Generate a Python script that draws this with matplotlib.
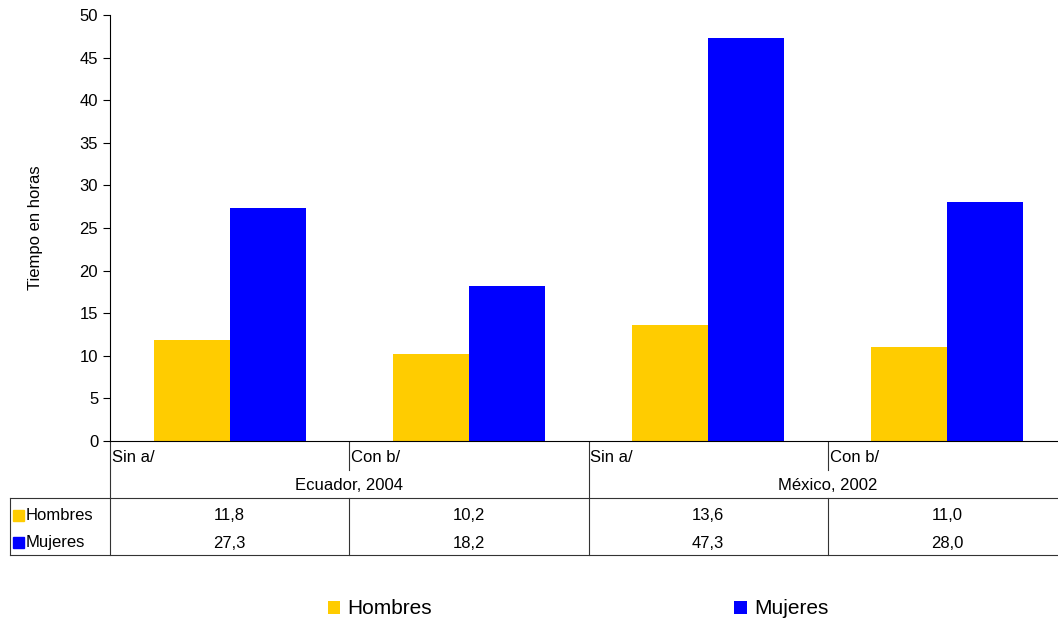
import matplotlib.pyplot as plt
from matplotlib.patches import Rectangle
import numpy as np

plt.rcParams['font.family'] = ['Liberation Sans', 'DejaVu Sans']

# datos
subcats = ['Sin a/', 'Con b/', 'Sin a/', 'Con b/']
groups = ['Ecuador, 2004', 'México, 2002']
hombres = [11.8, 10.2, 13.6, 11.0]
mujeres = [27.3, 18.2, 47.3, 28.0]
series = ['Hombres', 'Mujeres']
colors = ['#FFCC00', '#0000FF']

W, H = 1058, 619
fig = plt.figure(figsize=(W / 100, H / 100), dpi=100)

# area del grafico (en pixeles)
left, right, top, bottom = 110, 1067, 15, 441
ax = fig.add_axes([left / W, 1 - bottom / H, (right - left) / W, (bottom - top) / H])

x = np.arange(len(subcats)) + 0.5
bw = 0.318
b1 = ax.bar(x - bw / 2, hombres, bw, color=colors[0], label=series[0])
b2 = ax.bar(x + bw / 2, mujeres, bw, color=colors[1], label=series[1])

ax.set_xlim(0, len(subcats))
ax.set_ylim(0, 50)
ax.set_yticks(range(0, 51, 5))
ax.set_xticks([])
ax.tick_params(axis='y', labelsize=12, length=5, width=0.8, direction='out')
for s in ['top', 'right']:
    ax.spines[s].set_visible(False)
ax.spines['left'].set_linewidth(0.8)
ax.spines['bottom'].set_linewidth(0.8)
ax.set_ylabel('Tiempo en horas', fontsize=12, labelpad=26)

# tabla de datos debajo (coordenadas en pixeles)
tab = fig.add_axes([0, 0, 1, 1], zorder=-1)
tab.set_xlim(0, W)
tab.set_ylim(H, 0)
tab.axis('off')

colw = (right - left) / len(subcats)
edges = [left + i * colw for i in range(len(subcats) + 1)]
lc = '#333333'
lw = 0.8

row_top, row_bot = 498, 555
# lineas horizontales
tab.plot([10, W], [row_top, row_top], color=lc, lw=lw)
tab.plot([10, W], [row_bot, row_bot], color=lc, lw=lw)
tab.plot([10, 10], [row_top, row_bot], color=lc, lw=lw)
# lineas verticales
for i, e in enumerate(edges[:-1]):
    if i % 2 == 0:
        tab.plot([e, e], [bottom, row_bot], color=lc, lw=lw)
    else:
        tab.plot([e, e], [bottom, 470], color=lc, lw=lw)
        tab.plot([e, e], [row_top, row_bot], color=lc, lw=lw)

for i, lab in enumerate(subcats):
    tab.text(edges[i] + 2, 457, lab, fontsize=12, va='center', ha='left')
for g, name in enumerate(groups):
    tab.text((edges[2 * g] + edges[2 * g + 2]) / 2, 486, name, fontsize=12,
             va='center', ha='center')

row_y = [516, 543]
for r, (vals, name) in enumerate(zip([hombres, mujeres], series)):
    tab.add_patch(Rectangle((13, row_y[r] - 6), 11, 11, color=colors[r]))
    tab.text(26, row_y[r], name, fontsize=12, va='center', ha='left')
    for i, v in enumerate(vals):
        tab.text((edges[i] + edges[i + 1]) / 2, row_y[r], f'{v:.1f}'.replace('.', ','),
                 fontsize=12, va='center', ha='center')

fig.legend(handles=[b1, b2], loc='center', bbox_to_anchor=(578 / W, 1 - 609 / H),
           ncol=2, frameon=False, fontsize=15, handlelength=0.6, handleheight=0.6,
           handletextpad=0.35, columnspacing=14.5)

fig.savefig('out.png', dpi=100)
